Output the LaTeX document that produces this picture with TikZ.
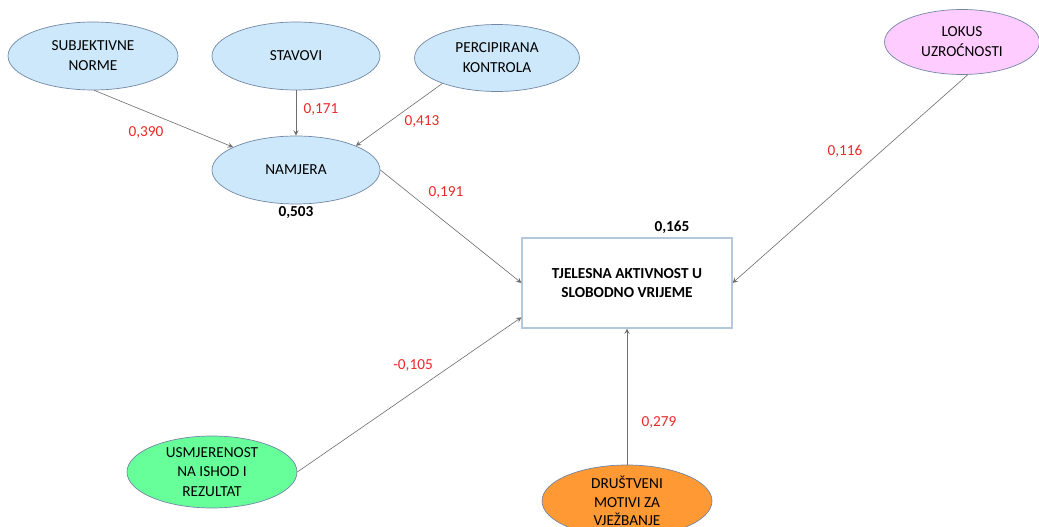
\documentclass[tikz,border=0pt]{standalone}
\usepackage{fontspec}
\setmainfont{Carlito}
\definecolor{plava}{RGB}{204,232,250}
\definecolor{ruba}{RGB}{115,135,165}
\definecolor{roza}{RGB}{255,204,255}
\definecolor{zelena}{RGB}{102,255,153}
\definecolor{narancasta}{RGB}{255,153,51}
\definecolor{okvir}{RGB}{180,199,220}
\definecolor{crvena}{RGB}{235,40,40}
\definecolor{strelica}{RGB}{110,110,110}
\tikzset{
	varijabla/.style={ellipse,draw=ruba,line width=0.4pt,inner sep=0pt,align=center,
		minimum width=3.4cm,minimum height=1.36cm,font=\fontsize{8.7}{11.3}\selectfont},
	kriterij/.style={rectangle,draw=okvir,line width=0.6pt,align=center,
		minimum width=4.2cm,minimum height=1.8cm,font=\fontsize{8.7}{11.3}\selectfont\bfseries},
	veza/.style={->,draw=strelica,line width=0.35pt,>=stealth},
	koef/.style={text=crvena,font=\fontsize{8.7}{10}\selectfont},
	rkv/.style={font=\fontsize{8.7}{10}\selectfont\bfseries}
}
\usetikzlibrary{shapes.geometric}
\begin{document}
\begin{tikzpicture}[x=0.02cm,y=-0.02cm]
		\useasboundingbox (0,0) rectangle (1039,527);
		\clip (0,0) rectangle (1039,527);
		% prediktori namjere
		\node[varijabla,fill=plava] (subj) at (93,56) {SUBJEKTIVNE\\NORME};
		\node[varijabla,fill=plava,minimum width=3.36cm] (stav) at (296,56) {STAVOVI};
		\node[varijabla,fill=plava,minimum width=3.3cm,minimum height=1.34cm] (perc) at (497,58) {PERCIPIRANA\\KONTROLA};
		\node[varijabla,fill=plava,minimum width=3.36cm] (namj) at (296,170) {NAMJERA};
		% ostali prediktori
		\node[varijabla,fill=roza,minimum width=3.1cm,minimum height=1.3cm] (lok) at (962,42) {LOKUS\\UZROĆNOSTI};
		\node[varijabla,fill=zelena,minimum height=1.44cm] (usmj) at (212,472) {USMJERENOST\\NA ISHOD I\\REZULTAT};
		\node[varijabla,fill=narancasta,minimum height=1.44cm,font=\fontsize{8.7}{10.6}\selectfont] (drus) at (627,501) {DRUŠTVENI\\MOTIVI ZA\\VJEŽBANJE};
		\node[kriterij] (tak) at (627,283) {TJELESNA AKTIVNOST U\\SLOBODNO VRIJEME};
		% veze
		\draw[veza] (subj.-88) -- (namj.160);
		\draw[veza] (stav) -- (namj);
		\draw[veza] (perc.-155) -- (namj.22);
		\draw[veza] (namj.east) -- (tak.west);
		\draw[veza] (lok.-80) -- (tak.east);
		\draw[veza] (usmj.east) -- (tak.-162);
		\draw[veza] (drus) -- (tak);
		% koeficijenti
		\node[koef] (k1) at (146,133) {0,390};
		\node[koef] (k2) at (321,110) {0,171};
		\node[koef] (k3) at (422,122) {0,413};
		\node[koef] (k4) at (446,193) {0,191};
		\node[koef] (k5) at (845,151) {0,116};
		\node[koef] (k6) at (413,366) {-0,105};
		\node[koef] (k7) at (659,423) {0,279};
		\node[rkv] (r1) at (296,213) {0,503};
		\node[rkv] (r2) at (672,227) {0,165};
	\end{tikzpicture}
\end{document}
